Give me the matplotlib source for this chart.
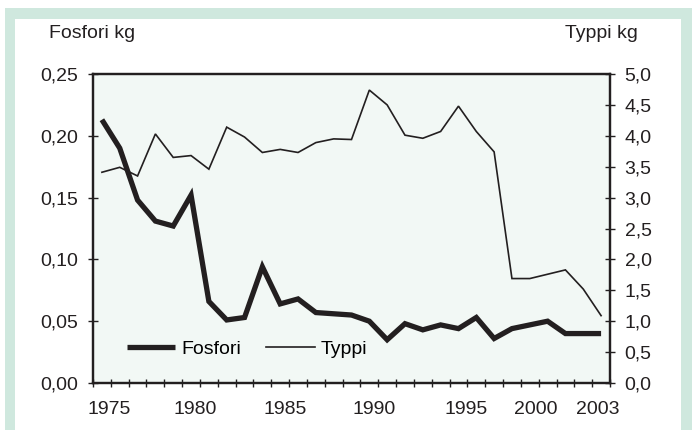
import matplotlib.pyplot as plt
from matplotlib.patches import Rectangle
from matplotlib.ticker import FixedLocator

# --- Data ---
vuodet = list(range(1975, 2004))
fosfori = [0.213, 0.190, 0.148, 0.131, 0.127, 0.152, 0.066, 0.051, 0.053, 0.094,
           0.064, 0.068, 0.057, 0.056, 0.055, 0.050, 0.035, 0.048, 0.043, 0.047,
           0.044, 0.053, 0.036, 0.044, 0.047, 0.050, 0.040, 0.040, 0.040]
typpi = [3.41, 3.49, 3.35, 4.03, 3.65, 3.68, 3.46, 4.14, 3.98, 3.73,
         3.78, 3.73, 3.89, 3.95, 3.94, 4.74, 4.50, 4.01, 3.96, 4.07,
         4.48, 4.07, 3.74, 1.69, 1.69, 1.76, 1.83, 1.52, 1.09]
x_labels = ['1975', '1980', '1985', '1990', '1995', '2000', '2003']
x_label_pos = [1975.43, 1980.25, 1985.29, 1990.27, 1995.42, 1999.33, 2002.84]
fosfori_ticks = [0.00, 0.05, 0.10, 0.15, 0.20, 0.25]
typpi_ticks = [0.0, 0.5, 1.0, 1.5, 2.0, 2.5, 3.0, 3.5, 4.0, 4.5, 5.0]

MUSTA = '#231f20'
VIHREA = '#cfe8de'
TAUSTA = '#f2f8f5'

plt.rcParams['font.family'] = ['Liberation Sans', 'DejaVu Sans']
plt.rcParams['font.size'] = 14

fig = plt.figure(figsize=(6.92, 4.30), dpi=100)
fig.patch.set_facecolor('white')

# vihreä kehys ja valkoinen sisäpaneeli
fig.patches.append(Rectangle((5 / 692, 0), 1, 1 - 8 / 430, transform=fig.transFigure,
                             facecolor=VIHREA, edgecolor='none', zorder=-2))
fig.patches.append(Rectangle((15 / 692, 0), 666 / 692, 1 - 19 / 430, transform=fig.transFigure,
                             facecolor='white', edgecolor='none', zorder=-1))

ax = fig.add_axes([93 / 692, 1 - 383 / 430, 517 / 692, 309 / 430])
ax.set_facecolor(TAUSTA)
ax2 = ax.twinx()

l1, = ax.plot(vuodet, fosfori, color=MUSTA, lw=3.8,
              solid_joinstyle='miter', solid_capstyle='butt', label='Fosfori')
l2, = ax2.plot(vuodet, typpi, color=MUSTA, lw=1.2,
               solid_joinstyle='miter', label='Typpi')

ax.set_xlim(1974.5, 2003.5)
ax.set_ylim(0, 0.25)
ax2.set_ylim(0, 5.0)

ax.set_yticks(fosfori_ticks)
ax.set_yticklabels([f'{v:.2f}'.replace('.', ',') for v in fosfori_ticks])
ax2.set_yticks(typpi_ticks)
ax2.set_yticklabels([f'{v:.1f}'.replace('.', ',') for v in typpi_ticks])

ax.set_xticks(x_label_pos)
ax.set_xticklabels(x_labels)
ax.xaxis.set_minor_locator(FixedLocator([v - 0.5 for v in vuodet] + [vuodet[-1] + 0.5]))
ax.tick_params(axis='x', which='major', length=0, pad=13, colors=MUSTA)
ax.tick_params(axis='x', which='minor', direction='inout', length=6, width=1.0, color=MUSTA)
ax.tick_params(axis='y', direction='inout', length=7, width=1.0, pad=7, colors=MUSTA)
ax2.tick_params(axis='y', direction='inout', length=7, width=1.0, pad=7, colors=MUSTA)

for a in (ax, ax2):
    for s in a.spines.values():
        s.set_linewidth(1.6)
        s.set_color(MUSTA)

fig.text(49 / 692, 1 - 34 / 430, 'Fosfori kg', ha='left', va='center', color=MUSTA)
fig.text(638 / 692, 1 - 34 / 430, 'Typpi kg', ha='right', va='center', color=MUSTA)

ax2.legend([l1, l2], ['Fosfori', 'Typpi'], loc='center left', bbox_to_anchor=(0.065, 0.11),
           ncol=2, frameon=False, borderpad=0, borderaxespad=0, handlelength=2.5,
           handletextpad=0.3, columnspacing=1.3)

fig.savefig('out.png', dpi=100)
